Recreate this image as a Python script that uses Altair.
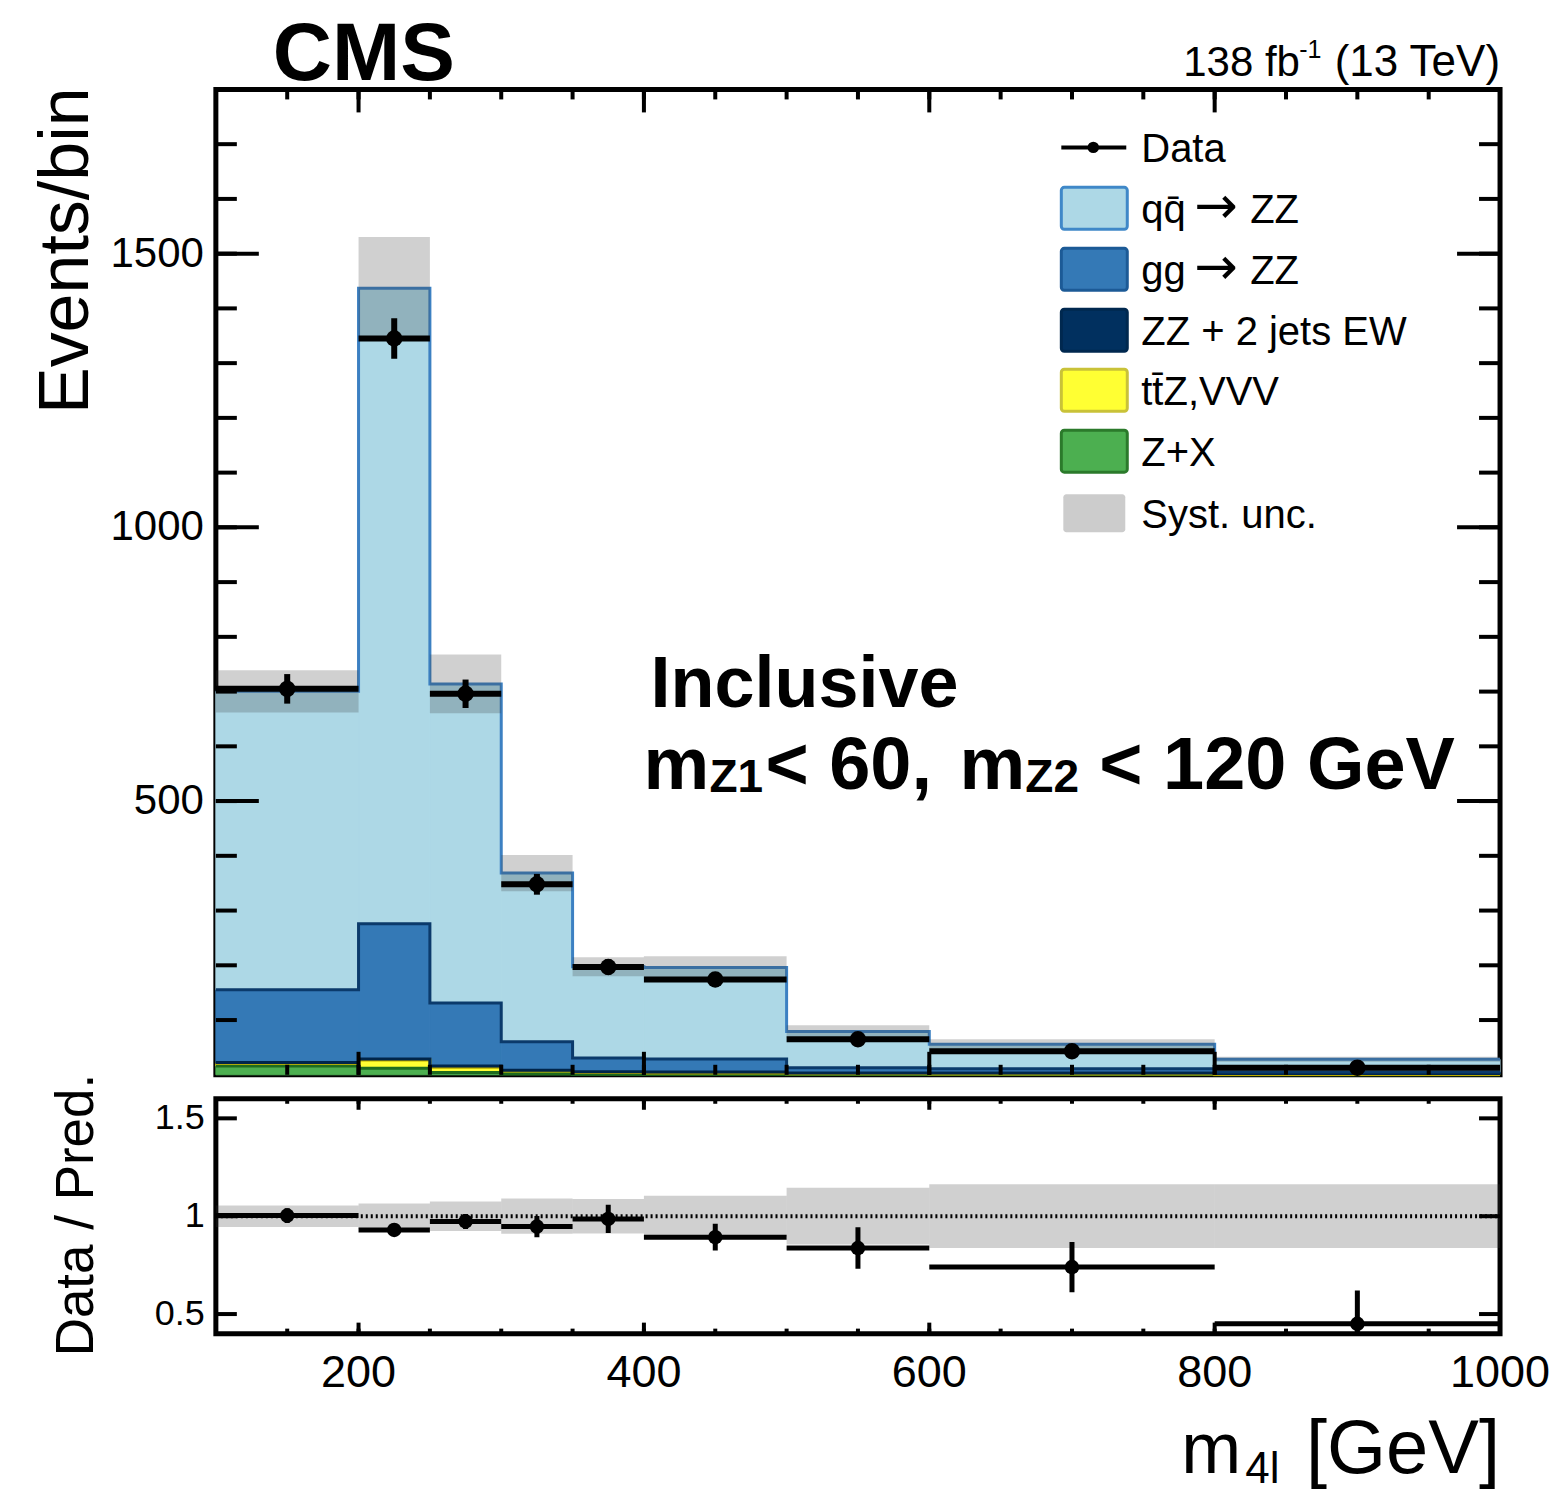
import altair as alt
import numpy as np
import pandas as pd

# ---------------- data ----------------
bin_edges = [100, 200, 250, 300, 350, 400, 500, 600, 800, 1000]
zx_vals = [16, 12, 4, 2, 1, 1, 0.5, 0.5, 0.2]
ttz_vals = [5, 15, 10, 5, 3, 2.5, 1.5, 1.0, 0.5]
ew_vals = [1.5, 2, 2, 1.5, 1.5, 1.5, 1.5, 2, 1.5]
gg_vals = [133, 247, 115, 52, 25, 24, 9.5, 7.5, 3]
qq_vals = [545, 1161, 583, 308, 167, 167, 66, 45, 23]
data_vals = [705, 1345, 696, 348, 197, 174, 65, 43, 13]
data_errs = [27, 37, 26, 19, 14, 13, 8, 6.5, 3.6]
syst_frac = [0.055, 0.065, 0.075, 0.09, 0.088, 0.105, 0.145, 0.163, 0.163]
ratio_vals = [1.003, 0.93, 0.973, 0.947, 0.986, 0.893, 0.837, 0.74, 0.45]
ratio_errs = [0.038, 0.027, 0.038, 0.054, 0.072, 0.068, 0.106, 0.128, 0.17]
x_tick_labels = [200, 400, 600, 800, 1000]
y_tick_labels = [500, 1000, 1500]
ratio_tick_labels = [0.5, 1, 1.5]
x_minor = list(range(150, 1000, 50))
x_major = [200, 400, 600, 800]
y_minor = list(range(100, 1800, 100))
legend_labels = ["Data", "qq\u0304", "gg", "ZZ + 2 jets EW", "tt\u0304Z,VVV", "Z+X", "Syst. unc."]

# ---------------- styling ----------------
W, H1, H2 = 1285, 986, 235
FONT = "Liberation Sans"
comp_names = ["Z+X", "ttZ", "EW", "gg", "qq"]
comp_vals = [zx_vals, ttz_vals, ew_vals, gg_vals, qq_vals]
comp_fill = ["#4CAF50", "#FFFF33", "#01305F", "#3479B6", "#ADD8E6"]
comp_line = ["#1E6B1E", "#B8A800", "#00254A", "#0B3A6B", "#3C80C2"]

lo = bin_edges[:-1]
hi = bin_edges[1:]
centers = [(a + b) / 2 for a, b in zip(lo, hi)]
nb = len(lo)

xs = alt.Scale(domain=[100, 1000], nice=False, zero=False)
ys1 = alt.Scale(domain=[0, 1800], nice=False, zero=True)
ys2 = alt.Scale(domain=[0.4, 1.6], nice=False, zero=False)

# ---------------- stacked histogram ----------------
stack_layers, lines = [], []
cum = np.zeros(nb)
for name, vals, fc in zip(comp_names, comp_vals, comp_fill):
    top = cum + np.array(vals, dtype=float)
    cdf = pd.DataFrame({"lo": lo, "hi": hi, "y0": cum, "y1": top})
    stack_layers.append(alt.Chart(cdf).mark_rect(fill=fc, stroke=fc, strokeWidth=1).encode(
        x=alt.X("lo:Q", scale=xs, axis=None), x2="hi:Q",
        y=alt.Y("y0:Q", scale=ys1, axis=None), y2="y1:Q"))
    for j, e in enumerate(bin_edges):
        lines.append({"comp": name, "x": e, "y": top[min(j, nb - 1)]})
    cum = top
total = cum

outline = alt.Chart(pd.DataFrame(lines)).mark_line(interpolate="step-after", strokeWidth=3).encode(
    x=alt.X("x:Q", scale=xs, axis=None),
    y=alt.Y("y:Q", scale=ys1, axis=None),
    stroke=alt.Stroke("comp:N", scale=alt.Scale(domain=comp_names, range=comp_line), legend=None),
)

sf = np.array(syst_frac)
syst_df = pd.DataFrame({"lo": lo, "hi": hi, "s0": total * (1 - sf), "s1": total * (1 + sf)})
syst = alt.Chart(syst_df).mark_rect(fill="#3a3a3a", opacity=0.24).encode(
    x=alt.X("lo:Q", scale=xs, axis=None), x2="hi:Q",
    y=alt.Y("s0:Q", scale=ys1, axis=None), y2="s1:Q",
)

dv = np.array(data_vals, dtype=float)
de = np.array(data_errs, dtype=float)
data_df = pd.DataFrame({"lo": lo, "hi": hi, "c": centers, "v": dv, "e0": dv - de, "e1": dv + de})
dbase = alt.Chart(data_df)
d_h = dbase.mark_rule(color="black", strokeWidth=6).encode(
    x=alt.X("lo:Q", scale=xs, axis=None), x2="hi:Q", y=alt.Y("v:Q", scale=ys1, axis=None))
d_v = dbase.mark_rule(color="black", strokeWidth=6).encode(
    x=alt.X("c:Q", scale=xs, axis=None), y=alt.Y("e0:Q", scale=ys1, axis=None), y2="e1:Q")
d_p = dbase.mark_circle(color="black", opacity=1, size=270).encode(
    x=alt.X("c:Q", scale=xs, axis=None), y=alt.Y("v:Q", scale=ys1, axis=None))


# ---------------- inward ticks ----------------
def xticks(vals, length, H, width=4):
    b = alt.Chart(pd.DataFrame({"t": vals}))
    enc = dict(x=alt.X("t:Q", scale=xs, axis=None))
    return [
        b.mark_rule(color="black", strokeWidth=width).encode(y=alt.value(H), y2=alt.value(H - length), **enc),
        b.mark_rule(color="black", strokeWidth=width).encode(y=alt.value(0), y2=alt.value(length), **enc),
    ]


def yticks(vals, length, scale, width=4):
    b = alt.Chart(pd.DataFrame({"t": vals}))
    enc = dict(y=alt.Y("t:Q", scale=scale, axis=None))
    return [
        b.mark_rule(color="black", strokeWidth=width).encode(x=alt.value(0), x2=alt.value(length), **enc),
        b.mark_rule(color="black", strokeWidth=width).encode(x=alt.value(W), x2=alt.value(W - length), **enc),
    ]


one = pd.DataFrame({"k": [0]})


def txt(s, x, y, size, weight="normal", align="left", baseline="alphabetic", angle=None, font=FONT):
    kw = dict(font=font, fontSize=size, fontWeight=weight, align=align, baseline=baseline, color="black")
    if angle is not None:
        kw["angle"] = angle
    return alt.Chart(one).mark_text(**kw).encode(x=alt.value(x), y=alt.value(y), text=alt.value(s))


def box(x0, x1, y0, y1, fill, stroke=None, sw=0, opacity=1.0):
    kw = dict(fill=fill, opacity=opacity, cornerRadius=3)
    if stroke:
        kw.update(stroke=stroke, strokeWidth=sw)
    return alt.Chart(one).mark_rect(**kw).encode(
        x=alt.value(x0), x2=alt.value(x1), y=alt.value(y0), y2=alt.value(y1))


# ---------------- tick labels (text through the scales) ----------------
ylab1 = alt.Chart(pd.DataFrame({"t": y_tick_labels, "s": [str(v) for v in y_tick_labels]})).mark_text(
    font=FONT, fontSize=42, align="right", baseline="middle", color="black").encode(
    x=alt.value(-12), y=alt.Y("t:Q", scale=ys1, axis=None), text="s:N")
ylab2 = alt.Chart(pd.DataFrame({"t": ratio_tick_labels, "s": [f"{v:g}" for v in ratio_tick_labels]})).mark_text(
    font=FONT, fontSize=36, align="right", baseline="middle", color="black").encode(
    x=alt.value(-11), y=alt.Y("t:Q", scale=ys2, axis=None), text="s:N")
xlab2 = alt.Chart(pd.DataFrame({"t": x_tick_labels, "s": [str(v) for v in x_tick_labels]})).mark_text(
    font=FONT, fontSize=45, align="center", baseline="top", color="black").encode(
    x=alt.X("t:Q", scale=xs, axis=None), y=alt.value(H2 + 17), text="s:N")

# ---------------- legend ----------------
row_c = [58, 119, 180, 241, 301, 362, 424]
leg = []
leg.append(alt.Chart(one).mark_rule(color="black", strokeWidth=4).encode(
    x=alt.value(846), x2=alt.value(911), y=alt.value(row_c[0])))
leg.append(alt.Chart(one).mark_circle(color="black", opacity=1, size=130).encode(
    x=alt.value(878), y=alt.value(row_c[0])))
box_fill = ["#ADD8E6", "#3479B6", "#01305F", "#FFFF33", "#4CAF50"]
box_line = ["#3F88C8", "#1C5A96", "#00284F", "#C9C238", "#2B7A2B"]
for k in range(5):
    c = row_c[k + 1]
    leg.append(box(846, 912, c - 21, c + 21, box_fill[k], box_line[k], 3))
leg.append(box(848, 910, row_c[6] - 19, row_c[6] + 19, "#3a3a3a", opacity=0.26))
for k, lab in enumerate(legend_labels):
    leg.append(txt(lab, 926, row_c[k] + 15, 40))
for k in (1, 2):
    leg.append(txt("\u2192", 979, row_c[k] + 15, 52, font="DejaVu Sans"))
    leg.append(txt("ZZ", 1035, row_c[k] + 15, 40))

# ---------------- annotations (upper) ----------------
ann = [
    txt("CMS", 57, -9, 82, weight="bold"),
    txt("138 fb", 968, -13, 42),
    txt("-1", 1084, -31, 25),
    txt("(13 TeV)", 1285, -13, 44, align="right"),
    txt("Events/bin", -128, -2, 70, align="right", angle=270),
    txt("Inclusive", 435, 618, 72, weight="bold"),
    txt("m", 428, 700, 74, weight="bold"),
    txt("Z1", 494, 703, 46, weight="bold"),
    txt("< 60,", 550, 700, 74, weight="bold"),
    txt("m", 744, 700, 74, weight="bold"),
    txt("Z2", 810, 703, 46, weight="bold"),
    txt("< 120 GeV", 884, 700, 74, weight="bold"),
]

upper = alt.layer(
    *stack_layers, outline, syst, d_h, d_v, d_p,
    *xticks(x_minor, 10, H1), *xticks(x_major, 23, H1),
    *yticks(y_minor, 21, ys1), *yticks(y_tick_labels, 43, ys1),
    ylab1, *leg, *ann,
).properties(width=W, height=H1)

# ---------------- ratio panel ----------------
band_df = pd.DataFrame({"lo": lo, "hi": hi, "b0": 1 - sf, "b1": 1 + sf})
band = alt.Chart(band_df).mark_rect(fill="#3a3a3a", opacity=0.24).encode(
    x=alt.X("lo:Q", scale=xs, axis=None), x2="hi:Q",
    y=alt.Y("b0:Q", scale=ys2, axis=None), y2="b1:Q",
)
unity = alt.Chart(pd.DataFrame({"r": [1.0]})).mark_rule(
    color="black", strokeWidth=4, strokeDash=[2, 3]).encode(
    x=alt.value(0), x2=alt.value(W), y=alt.Y("r:Q", scale=ys2, axis=None))

rv = np.array(ratio_vals)
re_ = np.array(ratio_errs)
ratio_df = pd.DataFrame({"lo": lo, "hi": hi, "c": centers, "r": rv, "r0": rv - re_, "r1": rv + re_})
rbase = alt.Chart(ratio_df)
r_h = rbase.mark_rule(color="black", strokeWidth=5, clip=True).encode(
    x=alt.X("lo:Q", scale=xs, axis=None), x2="hi:Q", y=alt.Y("r:Q", scale=ys2, axis=None))
r_v = rbase.mark_rule(color="black", strokeWidth=5, clip=True).encode(
    x=alt.X("c:Q", scale=xs, axis=None), y=alt.Y("r0:Q", scale=ys2, axis=None), y2="r1:Q")
r_p = rbase.mark_circle(color="black", opacity=1, size=210).encode(
    x=alt.X("c:Q", scale=xs, axis=None), y=alt.Y("r:Q", scale=ys2, axis=None))

ann2 = [
    txt("Data / Pred.", -123, -25, 53, align="right", angle=270),
    txt("m", 966, 374, 72),
    txt("4l", 1030, 384, 44),
    txt("[GeV]", 1285, 374, 76, align="right"),
]

lower = alt.layer(
    band, unity, r_h, r_v, r_p,
    *xticks(x_minor, 5, H2), *xticks(x_major, 11, H2),
    *yticks(ratio_tick_labels, 21, ys2),
    ylab2, xlab2, *ann2,
).properties(width=W, height=H2)

chart = alt.vconcat(upper, lower, spacing=24, bounds="flush").properties(
    padding={"left": 29, "top": 11, "right": 5, "bottom": 10}
).configure_view(stroke="black", strokeWidth=5)

chart.save("out.html", embed_options={"renderer": "svg", "actions": False})
